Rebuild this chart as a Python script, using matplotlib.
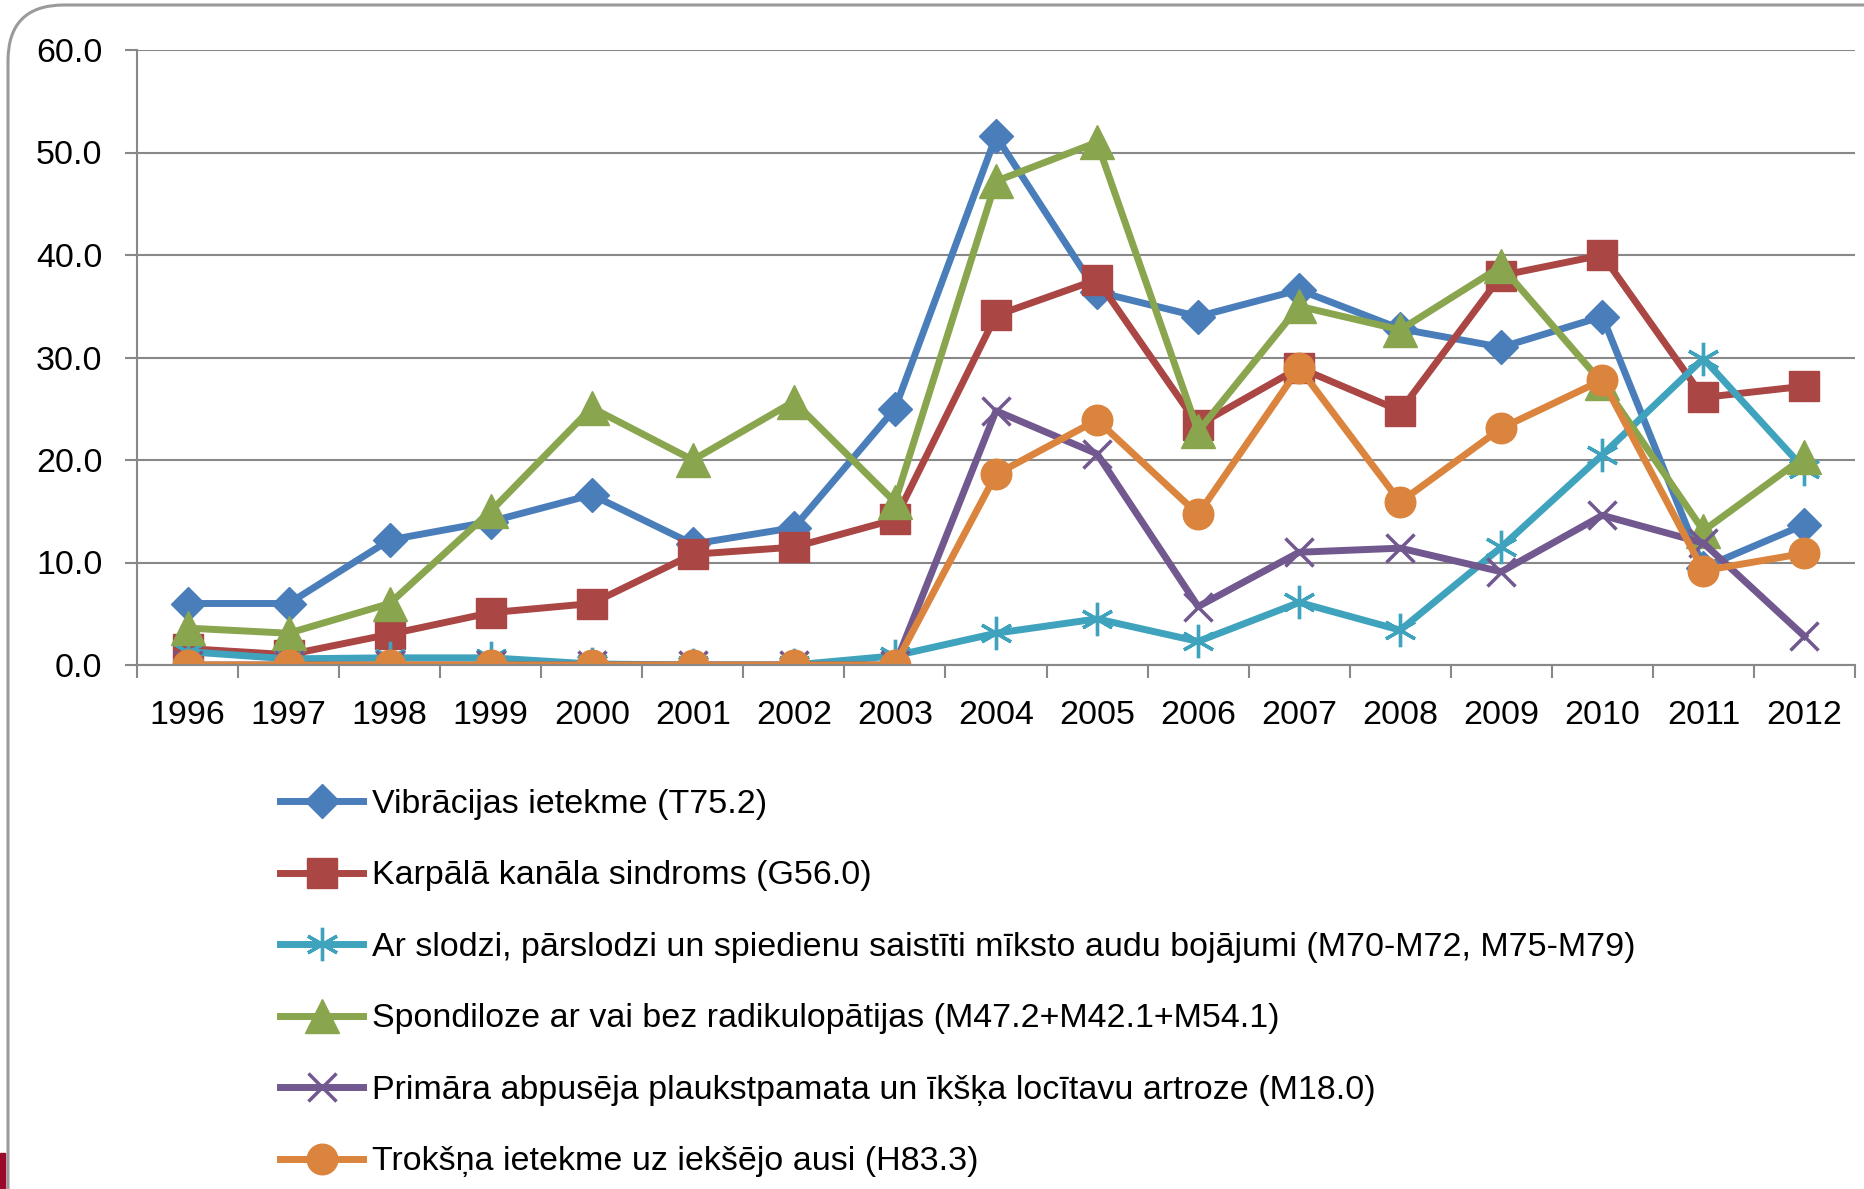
import numpy as np
import matplotlib
matplotlib.use('Agg')
import matplotlib.pyplot as plt
from matplotlib.patches import FancyBboxPatch, Rectangle

plt.rcParams['font.family'] = ['Liberation Sans', 'DejaVu Sans']

years = ['1996', '1997', '1998', '1999', '2000', '2001', '2002', '2003', '2004',
         '2005', '2006', '2007', '2008', '2009', '2010', '2011', '2012']

vibr = [6.0, 6.0, 12.2, 14.0, 16.6, 11.8, 13.4, 25.0, 51.6, 36.4, 34.0, 36.6, 32.8, 31.0, 34.0, 9.5, 13.7]
karp = [1.6, 1.0, 3.0, 5.1, 6.0, 10.8, 11.5, 14.2, 34.1, 37.6, 23.4, 29.0, 24.8, 38.0, 40.0, 26.1, 27.2]
slodze = [1.3, 0.6, 0.7, 0.7, 0.1, 0.0, 0.0, 0.9, 3.1, 4.5, 2.3, 6.1, 3.4, 11.5, 20.5, 29.9, 19.1]
spond = [3.6, 3.1, 6.0, 15.0, 25.1, 20.0, 25.7, 15.9, 47.2, 51.0, 22.8, 35.0, 32.7, 38.9, 27.5, 13.1, 20.3]
artroze = [0.0, 0.0, 0.0, 0.0, 0.0, 0.0, 0.0, 0.0, 24.8, 20.6, 5.7, 11.0, 11.4, 9.1, 14.6, 11.9, 2.8]
troksnis = [0.0, 0.0, 0.0, 0.0, 0.0, 0.0, 0.0, 0.0, 18.6, 23.9, 14.7, 29.0, 15.9, 23.1, 27.8, 9.2, 10.9]

labels = ['Vibrācijas ietekme (T75.2)',
          'Karpālā kanāla sindroms (G56.0)',
          'Ar slodzi, pārslodzi un spiedienu saistīti mīksto audu bojājumi (M70-M72, M75-M79)',
          'Spondiloze ar vai bez radikulopātijas (M47.2+M42.1+M54.1)',
          'Primāra abpusēja plaukstpamata un īkšķa locītavu artroze (M18.0)',
          'Trokšņa ietekme uz iekšējo ausi (H83.3)']

fs = 24.5
lw = 5

fig = plt.figure(figsize=(18.65, 11.89), dpi=100)

# rounded frame of the slide box
frame = FancyBboxPatch((8 / 1865, 1 - 1300 / 1189), 2000 / 1865, (1300 - 5) / 1189,
                       boxstyle='round,pad=0,rounding_size=0.03', transform=fig.transFigure,
                       fill=False, edgecolor='#9a9a9a', linewidth=2.2,
                       mutation_aspect=1865 / 1189)
fig.patches.append(frame)
fig.patches.append(Rectangle((0, 0), 5 / 1865, 36 / 1189, transform=fig.transFigure,
                             color='#9b0a2a'))

ax = fig.add_axes([137 / 1865, 1 - 665 / 1189, (1855 - 137) / 1865, (665 - 50) / 1189])
x = np.arange(len(years))

ax.plot(x, vibr, color='#4a7ebb', lw=lw, marker='D', ms=17, label=labels[0])
ax.plot(x, karp, color='#aa4643', lw=lw, marker='s', ms=22, label=labels[1])
ax.plot(x, slodze, color='#3fa3bd', lw=lw, marker=(6, 2, 0), ms=24, mew=2.4, label=labels[2])
ax.plot(x, spond, color='#89a54e', lw=lw, marker='^', ms=24, label=labels[3])
ax.plot(x, artroze, color='#71588f', lw=lw, marker='x', ms=20, mew=2.5, label=labels[4])
ax.plot(x, troksnis, color='#db843d', lw=lw, marker='o', ms=22, label=labels[5])

ax.set_xlim(-0.5, len(years) - 0.5)
ax.set_ylim(0, 60)
ax.set_yticks(np.arange(0, 61, 10))
ax.set_yticklabels(['%.1f' % v for v in np.arange(0, 61, 10)])
ax.set_xticks(x)
ax.set_xticklabels(years)
ax.set_xticks(np.arange(-0.5, len(years), 1), minor=True)
ax.tick_params(axis='x', which='major', length=0, pad=25, labelsize=fs)
ax.tick_params(axis='x', which='minor', length=9, width=1.5, color='#888888')
ax.tick_params(axis='y', length=9, width=1.5, color='#888888', pad=16, labelsize=fs)
ax.grid(axis='y', color='#888888', lw=1.5)
ax.set_axisbelow(True)
for s in ['top', 'right']:
    ax.spines[s].set_visible(False)
for s in ['left', 'bottom']:
    ax.spines[s].set_color('#888888')
    ax.spines[s].set_linewidth(1.5)

ax.legend(loc='upper left', bbox_to_anchor=(280 / 1865, 1 - 789 / 1189),
          bbox_transform=fig.transFigure, frameon=False, fontsize=fs,
          handlelength=2.45, handletextpad=0.24, labelspacing=1.19, borderpad=0,
          borderaxespad=0)

fig.savefig('out.png', dpi=100)
